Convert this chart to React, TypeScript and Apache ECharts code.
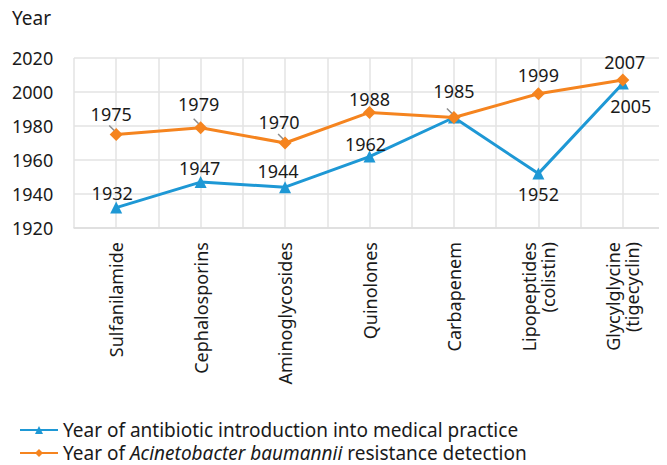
import React, { useEffect, useRef } from "react";
import * as echarts from "echarts";

const categories = [
  "Sulfanilamide",
  "Cephalosporins",
  "Aminoglycosides",
  "Quinolones",
  "Carbapenem",
  "Lipopeptides\n(colistin)",
  "Glycylglycine\n(tigecyclin)",
];
const introductionYears = [1932, 1947, 1944, 1962, 1985, 1952, 2005];
const resistanceYears = [1975, 1979, 1970, 1988, 1985, 1999, 2007];
const yTicks = [1920, 1940, 1960, 1980, 2000, 2020];
const seriesNames = [
  "Year of antibiotic introduction into medical practice",
  "Year of Acinetobacter baumannii resistance detection",
];

const BLUE = "#1e98d5";
const ORANGE = "#f5841f";
const FONT = "Noto Sans";

// [offsetX, offsetY, position, show]
const blueLabelCfg: [number, number, string, boolean][] = [
  [-4, 3, "top", true],
  [-1, 4, "top", true],
  [-7, 2, "top", true],
  [-4, 5, "top", true],
  [0, 0, "top", false],
  [0, 2, "bottom", true],
  [8, 4, "bottom", true],
];
// [offsetX, offsetY, position, show, leader]
const orangeLabelCfg: [number, number, string, boolean, boolean][] = [
  [-5, -2, "top", true, true],
  [-2, -5, "top", true, true],
  [-6, -3, "top", true, true],
  [0, 5, "top", true, false],
  [0, -8, "top", true, true],
  [0, 0, "top", true, false],
  [2, 0, "top", true, false],
];

export default function App() {
  const ref = useRef<HTMLDivElement>(null);
  useEffect(() => {
    if (!ref.current) return;
    const chart = echarts.init(ref.current, undefined, { renderer: "svg" });
    const labelText = { fontFamily: FONT, fontSize: 18, color: "#1a1a1a" };
    const legendText = {
      fontFamily: FONT,
      fontSize: 19,
      lineHeight: 20,
      color: "#1a1a1a",
      rich: {
        n: { fontFamily: FONT, fontSize: 19, lineHeight: 20, color: "#1a1a1a" },
        i: { fontFamily: FONT, fontSize: 19, lineHeight: 20, fontStyle: "italic", color: "#1a1a1a" },
      },
    };
    const legendFormatter = (name: string) => {
      if (name.indexOf("Acinetobacter") >= 0) {
        return "{n|Year of }{i|Acinetobacter baumannii}{n| resistance detection}";
      }
      return "{n|" + name + "}";
    };
    chart.setOption({
      animation: false,
      backgroundColor: "#ffffff",
      grid: { left: 74, right: 2, top: 58, bottom: 237 },
      xAxis: [
        {
          type: "category",
          data: categories,
          boundaryGap: true,
          axisLine: { show: true, lineStyle: { color: "#dddddd", width: 1.5 } },
          axisTick: { show: false },
          splitLine: { show: false },
          axisLabel: {
            rotate: 90,
            interval: 0,
            margin: 14,
            fontFamily: FONT,
            fontSize: 18,
            lineHeight: 19,
            color: "#1a1a1a",
          },
        },
        {
          type: "value",
          min: 0,
          max: 14,
          interval: 1,
          show: true,
          position: "bottom",
          axisLine: { show: false },
          axisTick: { show: false },
          axisLabel: { show: false },
          splitLine: { show: true, lineStyle: { color: "#e3e3e3", width: 1.5 } },
        },
      ],
      yAxis: {
        type: "value",
        min: yTicks[0],
        max: yTicks[yTicks.length - 1],
        interval: 20,
        axisLine: { show: false },
        axisTick: { show: false },
        axisLabel: {
          align: "left",
          margin: 62,
          fontFamily: FONT,
          fontSize: 18,
          color: "#1a1a1a",
          formatter: (v: number) => String(v),
        },
        splitLine: { show: true, lineStyle: { color: "#e3e3e3", width: 1.5 } },
      },
      legend: [
        {
          left: 14,
          top: 415,
          padding: 5,
          itemWidth: 38,
          itemHeight: 10,
          textStyle: legendText,
          formatter: legendFormatter,
          data: [seriesNames[0]],
        },
        {
          left: 14,
          top: 438,
          padding: 5,
          itemWidth: 38,
          itemHeight: 10,
          textStyle: legendText,
          formatter: legendFormatter,
          data: [seriesNames[1]],
        },
      ],
      series: [
        {
          name: seriesNames[0],
          type: "line",
          xAxisIndex: 0,
          data: introductionYears.map((v, i) => ({
            value: v,
            label: {
              show: blueLabelCfg[i][3],
              position: blueLabelCfg[i][2],
              offset: [blueLabelCfg[i][0], blueLabelCfg[i][1]],
            },
          })),
          symbol: "triangle",
          symbolSize: 12,
          itemStyle: { color: BLUE },
          lineStyle: { color: BLUE, width: 3 },
          label: { show: true, distance: 3, ...labelText },
          z: 3,
        },
        {
          name: seriesNames[1],
          type: "line",
          xAxisIndex: 0,
          data: resistanceYears.map((v, i) => ({
            value: v,
            label: {
              show: orangeLabelCfg[i][3],
              position: orangeLabelCfg[i][2],
              offset: [orangeLabelCfg[i][0], orangeLabelCfg[i][1]],
            },
          })),
          symbol: "diamond",
          symbolSize: 13,
          itemStyle: { color: ORANGE },
          lineStyle: { color: ORANGE, width: 3 },
          label: { show: true, distance: 3, ...labelText },
          z: 4,
        },
      ],
    });

    const graphics: any[] = [
      {
        type: "text",
        left: 12,
        top: 8,
        style: { text: "Year", fontFamily: FONT, fontSize: 19, fill: "#1a1a1a" },
      },
    ];
    resistanceYears.forEach((v, i) => {
      if (!orangeLabelCfg[i][4]) return;
      const p = chart.convertToPixel({ xAxisIndex: 0, yAxisIndex: 0 }, [i, v]) as number[];
      graphics.push({
        type: "line",
        shape: { x1: p[0] - 7, y1: p[1] - 9, x2: p[0] - 2, y2: p[1] - 4 },
        style: { stroke: "#8c8c8c", lineWidth: 1.5 },
        z: 10,
      });
    });
    chart.setOption({ graphic: graphics });
    return () => chart.dispose();
  }, []);
  return <div ref={ref} style={{ width: 667, height: 465, marginLeft: -8, marginTop: -8 }} />;
}
